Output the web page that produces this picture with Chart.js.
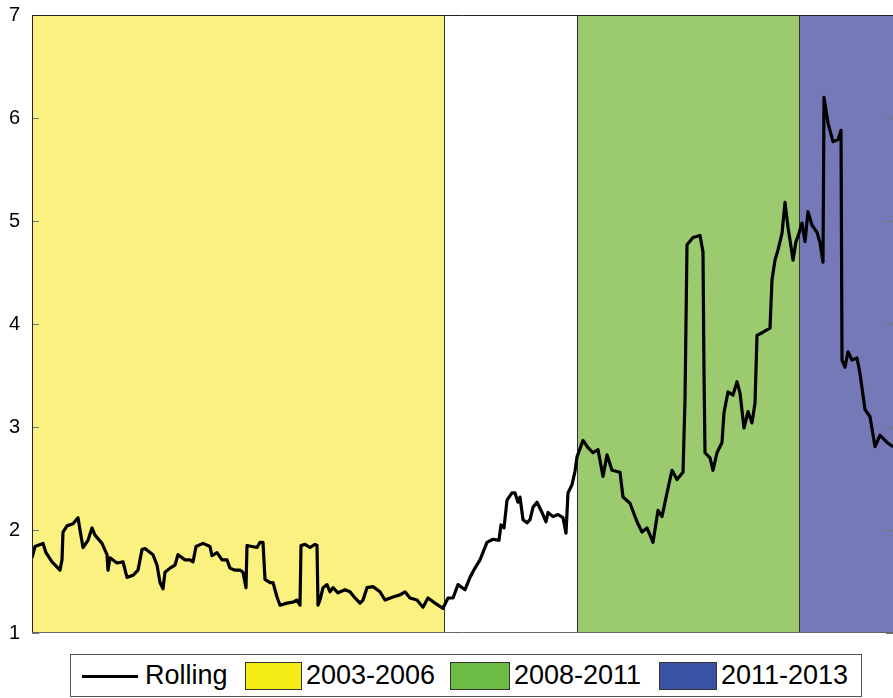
<!DOCTYPE html>
<html>
<head>
<meta charset="utf-8">
<script src="https://cdn.jsdelivr.net/npm/chart.js@4"></script>
<style>
  html, body { margin: 0; padding: 0; background: #fff; }
  #wrap { position: relative; width: 893px; height: 698px; font-family: 'Liberation Sans', Arial, sans-serif; }
  #chart { position: absolute; left: 0; top: 0; }
  .legend { position: absolute; left: 70px; top: 654px; width: 792px; height: 43px; border: 1px solid #555; box-sizing: border-box; background: #fff; }
  .lg { position: absolute; }
  .lg-line { top: 20px; height: 3px; background: #000; }
  .lg-box { top: 7px; height: 28px; border: 1px solid #333; box-sizing: border-box; }
  .lg-text { top: 4px; font-size: 27px; line-height: 32px; color: #000; white-space: nowrap; }
</style>
</head>
<body>
<div id="wrap">
  <canvas id="chart" width="893" height="698"></canvas>
  <div class="legend" id="legend"></div>
</div>
<script>
/* ---- Data (observation index / rolling value) ---- */
const obsIndex = [
  0, 3, 11, 14, 20, 28, 30, 31, 35, 41, 46, 48, 51, 56, 60, 63, 70, 75, 76, 78,
  85, 91, 95, 101, 106, 110, 113, 121, 125, 128, 131, 133, 138, 143, 146, 153, 158, 161, 164, 171,
  178, 180, 185, 190, 195, 198, 203, 208, 211, 214, 215, 220, 225, 228, 231, 233, 238, 241, 245, 248,
  255, 261, 265, 268, 269, 273, 278, 283, 285, 286, 288, 291, 295, 298, 301, 306, 313, 318, 323, 328,
  331, 335, 341, 348, 353, 361, 368, 373, 378, 385, 391, 396, 403, 411, 416, 421, 426, 433, 438, 443,
  448, 455, 461, 467, 469, 472, 475, 480, 483, 486, 488, 491, 495, 498, 501, 505, 510, 514, 516, 521,
  526, 531, 534, 536, 540, 543, 545, 551, 556, 561, 566, 571, 575, 580, 588, 591, 598, 605, 610, 615,
  621, 626, 630, 635, 640, 645, 651, 653, 655, 661, 668, 671, 672, 673, 678, 681, 685, 690, 692, 696,
  701, 705, 708, 712, 716, 720, 723, 725, 731, 738, 740, 743, 746, 750, 753, 756, 760, 761, 764, 766,
  770, 773, 776, 780, 785, 788, 791, 792, 796, 801, 806, 809, 810, 813, 816, 820, 825, 828, 833, 838,
  843, 848, 855, 861
];
const rolling = [
  1.73, 1.84, 1.87, 1.78, 1.69, 1.61, 1.71, 1.98, 2.04, 2.06, 2.12, 2.00, 1.83, 1.90, 2.02, 1.95, 1.87, 1.76, 1.61, 1.73,
  1.68, 1.69, 1.54, 1.56, 1.61, 1.81, 1.82, 1.76, 1.66, 1.49, 1.43, 1.59, 1.63, 1.66, 1.76, 1.71, 1.71, 1.69, 1.84, 1.87,
  1.84, 1.75, 1.78, 1.71, 1.71, 1.63, 1.61, 1.61, 1.59, 1.44, 1.85, 1.84, 1.83, 1.88, 1.88, 1.52, 1.49, 1.49, 1.35, 1.27,
  1.29, 1.30, 1.32, 1.27, 1.85, 1.86, 1.83, 1.86, 1.85, 1.27, 1.32, 1.44, 1.47, 1.40, 1.44, 1.39, 1.42, 1.40, 1.34, 1.29,
  1.32, 1.44, 1.45, 1.40, 1.32, 1.35, 1.37, 1.40, 1.34, 1.32, 1.25, 1.34, 1.29, 1.24, 1.34, 1.34, 1.47, 1.42, 1.54, 1.63,
  1.71, 1.88, 1.91, 1.90, 2.05, 2.02, 2.29, 2.36, 2.36, 2.27, 2.32, 2.10, 2.07, 2.10, 2.22, 2.27, 2.17, 2.08, 2.17, 2.13,
  2.15, 2.12, 1.97, 2.36, 2.44, 2.57, 2.71, 2.87, 2.80, 2.75, 2.78, 2.52, 2.73, 2.58, 2.56, 2.32, 2.26, 2.08, 1.98, 2.02,
  1.88, 2.19, 2.13, 2.36, 2.58, 2.49, 2.56, 3.26, 4.77, 4.84, 4.86, 4.70, 3.53, 2.75, 2.70, 2.58, 2.75, 2.85, 3.14, 3.34,
  3.31, 3.44, 3.33, 2.99, 3.15, 3.04, 3.23, 3.89, 3.92, 3.96, 4.43, 4.62, 4.72, 4.88, 5.18, 4.94, 4.69, 4.62, 4.80, 4.85,
  4.98, 4.80, 5.09, 4.96, 4.89, 4.79, 4.60, 6.20, 5.95, 5.77, 5.79, 5.88, 3.65, 3.58, 3.73, 3.65, 3.67, 3.52, 3.17, 3.10,
  2.81, 2.92, 2.85, 2.81
];

/* shaded periods */
const periodLabels = ['2003-2006', '2008-2011', '2011-2013'];
const periodStart  = [0, 545, 767];
const periodEnd    = [412, 767, 861];
const periodFill   = ['#faf180', '#9bcb6e', '#7579b8'];
const periodSwatch = ['#f5eb14', '#6cbb45', '#3a54a4'];

const yTicks = [1, 2, 3, 4, 5, 6, 7];
const xMin = 0, xMax = 861;

/* ---- Background bands + frame ---- */
const bandsPlugin = {
  id: 'bands',
  beforeDatasetsDraw(chart) {
    const { ctx, chartArea: a, scales: { x, y } } = chart;
    ctx.save();
    periodStart.forEach((s, i) => {
      const x0 = x.getPixelForValue(s);
      const x1 = x.getPixelForValue(periodEnd[i]);
      ctx.fillStyle = periodFill[i];
      ctx.fillRect(x0, a.top, x1 - x0, a.bottom - a.top);
    });
    /* thin boundary lines */
    ctx.strokeStyle = '#333';
    ctx.lineWidth = 1;
    [periodEnd[0], periodStart[1], periodStart[2]].forEach(v => {
      const px = Math.round(x.getPixelForValue(v)) + 0.5;
      ctx.beginPath(); ctx.moveTo(px, a.top); ctx.lineTo(px, a.bottom); ctx.stroke();
    });
    /* inner tick marks */
    ctx.strokeStyle = '#777';
    yTicks.forEach(t => {
      const py = Math.round(y.getPixelForValue(t)) + 0.5;
      ctx.beginPath(); ctx.moveTo(a.left, py); ctx.lineTo(a.left + 7, py); ctx.stroke();
      ctx.beginPath(); ctx.moveTo(a.right - 7, py); ctx.lineTo(a.right, py); ctx.stroke();
    });
    ctx.restore();
  },
  afterDatasetsDraw(chart) {
    const { ctx, chartArea: a } = chart;
    ctx.save();
    ctx.strokeStyle = '#222';
    ctx.lineWidth = 1;
    ctx.beginPath();
    ctx.moveTo(a.left + 0.5, a.bottom); ctx.lineTo(a.left + 0.5, a.top + 0.5); ctx.lineTo(a.right, a.top + 0.5);
    ctx.stroke();
    ctx.strokeStyle = '#666';
    ctx.beginPath(); ctx.moveTo(a.left, a.bottom - 0.5); ctx.lineTo(a.right, a.bottom - 0.5); ctx.stroke();
    ctx.restore();
  }
};

new Chart(document.getElementById('chart').getContext('2d'), {
  type: 'line',
  data: {
    datasets: [{
      label: 'Rolling',
      data: obsIndex.map((v, i) => ({ x: v, y: rolling[i] })),
      borderColor: '#000',
      borderWidth: 3.2,
      borderJoinStyle: 'round',
      pointRadius: 0,
      tension: 0,
      fill: false,
    }],
  },
  options: {
    responsive: false,
    animation: false,
    layout: { padding: { top: 15, right: 0, bottom: 65, left: 0 } },
    plugins: { legend: { display: false }, tooltip: { enabled: false } },
    scales: {
      x: { type: 'linear', min: xMin, max: xMax, display: false },
      y: {
        min: 1, max: 7,
        afterFit: s => { s.width = 32; s.paddingTop = 0; s.paddingBottom = 0; },
        afterBuildTicks: s => { s.ticks = yTicks.map(v => ({ value: v })); },
        grid: { display: false, drawTicks: false },
        border: { display: false },
        ticks: { color: '#000', padding: 12, font: { family: "'Liberation Sans', Arial", size: 20 } },
      },
    },
  },
  plugins: [bandsPlugin],
});

/* ---- Legend ---- */
const legend = document.getElementById('legend');
const item = (cls, left, width, style, text) => {
  const el = document.createElement('div');
  el.className = 'lg ' + cls;
  el.style.left = left + 'px';
  if (width) el.style.width = width + 'px';
  if (style) el.style.background = style;
  if (text) el.textContent = text;
  legend.appendChild(el);
};
item('lg-line', 11, 56);
item('lg-text', 74, 0, null, 'Rolling');
const swatchLeft = [174, 379, 588];
const swatchWidth = [57, 60, 58];
periodLabels.forEach((lbl, i) => {
  item('lg-box', swatchLeft[i], swatchWidth[i], periodSwatch[i]);
  item('lg-text', swatchLeft[i] + swatchWidth[i] + 4, 0, null, lbl);
});
</script>
</body>
</html>
